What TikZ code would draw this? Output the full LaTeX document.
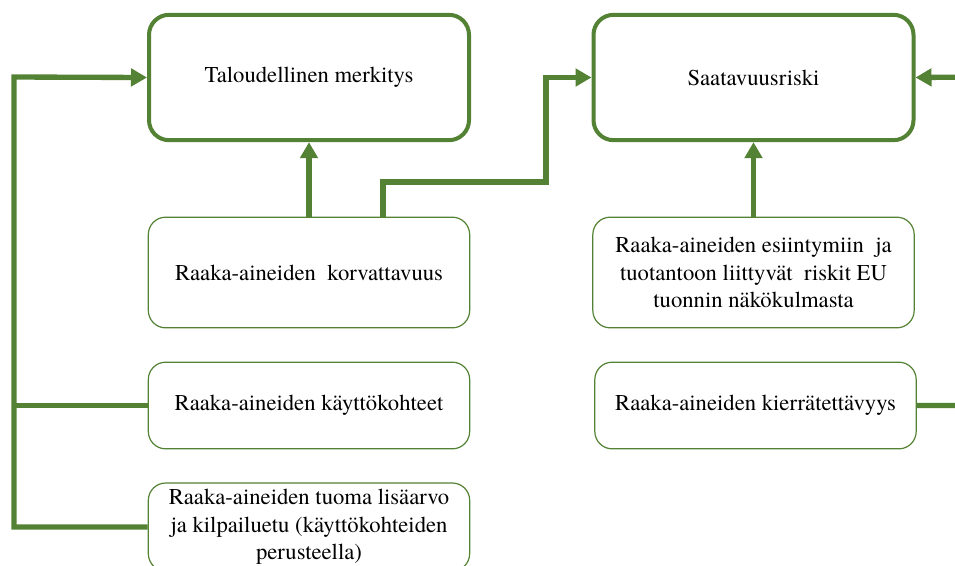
\documentclass[tikz,border=0pt]{standalone}
\usepackage{fontspec}
\setmainfont{texgyretermes}[Extension=.otf, UprightFont=*-regular]
\usetikzlibrary{arrows.meta}
\definecolor{vihrea}{RGB}{84,130,53}
\tikzset{
  bigbox/.style={draw=vihrea, line width=3pt, rounded corners=15pt, fill=white,
    minimum width=240pt, minimum height=94pt, align=center},
  smallbox/.style={draw=vihrea, line width=0.9pt, rounded corners=13pt, fill=white,
    minimum width=241pt, align=center},
  link/.style={draw=vihrea, line width=4pt, line join=miter},
  arrow/.style={link, -{Triangle[length=12pt,width=13pt]}}
}
\begin{document}
\begin{tikzpicture}[x=0.75pt,y=-0.75pt,font=\fontsize{17}{20.5}\selectfont]
 \path[use as bounding box, clip] (0,0) rectangle (955,565);
 % ylarivi
 \node[bigbox] (talous) at (309,77.5) {Taloudellinen merkitys};
 \node[bigbox] (saatavuus) at (753.5,77.5) {Saatavuusriski};
 % tekijat
 \node[smallbox, minimum height=83pt] (korvattavuus) at (309,272.5) {Raaka-aineiden\ \ korvattavuus};
 \node[smallbox, minimum height=65pt] (kayttokohteet) at (309,405.5) {Raaka-aineiden käyttökohteet};
 \node[smallbox, minimum height=66pt] (lisaarvo) at (309,527)
   {Raaka-aineiden tuoma lisäarvo\\ja kilpailuetu (käyttökohteiden\\perusteella)};
 \node[smallbox, minimum height=83pt] (esiintymat) at (753.5,272.5)
   {Raaka-aineiden esiintymiin\ \ ja\\tuotantoon liittyvät\ \ riskit EU\\tuonnin näkökulmasta};
 \node[smallbox, minimum height=65pt] (kierratys) at (755.5,405.5) {Raaka-aineiden kierrätettävyys};
 % yhteydet
 \coordinate (k1) at (383,182);
 \coordinate (k2) at (546,182);
 \coordinate (vasen) at (14,77);
 \coordinate (oikea) at (975,77);
 \draw[arrow] (korvattavuus.north) -- (talous.south);
 \draw[arrow] (korvattavuus.north -| k1) -- (k1) -- (k2) |- (saatavuus.west);
 \draw[arrow] (lisaarvo.west) -| (vasen) -- (talous.west);
 \draw[link] (kayttokohteet.west) -- (kayttokohteet.west -| vasen);
 \draw[arrow] (esiintymat.north) -- (saatavuus.south);
 \draw[arrow] (kierratys.east) -| (oikea) -- (saatavuus.east);
\end{tikzpicture}
\end{document}
